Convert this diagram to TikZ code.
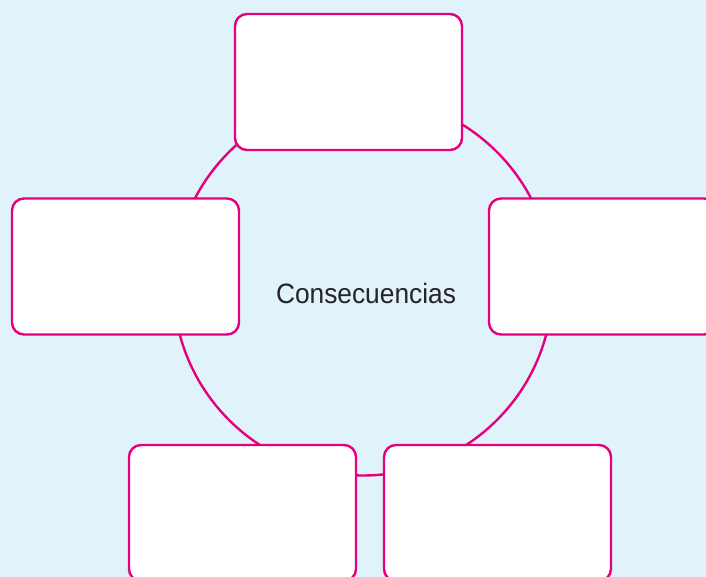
\documentclass[tikz,border=0pt]{standalone}
\usepackage{fontspec}
\newfontfamily\labelfont[FakeStretch=0.94]{Liberation Sans}
\definecolor{pinkline}{RGB}{230,0,126}
\definecolor{skyback}{RGB}{224,242,250}
\definecolor{inkgray}{RGB}{38,36,38}
\tikzstyle{emptyBox}=[shape = rectangle, rounded corners = 12pt, minimum width = 227pt, minimum height = 136pt, inner sep = 0pt, draw = pinkline, fill = white, line width = 2.4pt]
\tikzstyle{ringStyle}=[shape = circle, minimum size = 379pt, inner sep = 0pt, draw = pinkline, line width = 2.4pt]
\begin{document}
\begin{tikzpicture}[x = 1pt, y = -1pt]
\tikzstyle{centerLabel}=[font = \labelfont\fontsize{28}{30}\selectfont, text = inkgray, inner sep = 0pt]
\useasboundingbox (0,0) rectangle (706,577);
\fill[skyback] (0,0) rectangle (706,577);
\clip (0,0) rectangle (706,577);
\node[ringStyle] (ring) at (363,286) {};
\node[emptyBox] (b0) at (348.5,82) {};
\node[emptyBox] (b1) at (125.5,266.5) {};
\node[emptyBox] (b2) at (602.5,266.5) {};
\node[emptyBox] (b3) at (242.5,513) {};
\node[emptyBox] (b4) at (497.5,513) {};
\node[centerLabel] (cons) at (366,293) {Consecuencias};
\end{tikzpicture}
\end{document}
